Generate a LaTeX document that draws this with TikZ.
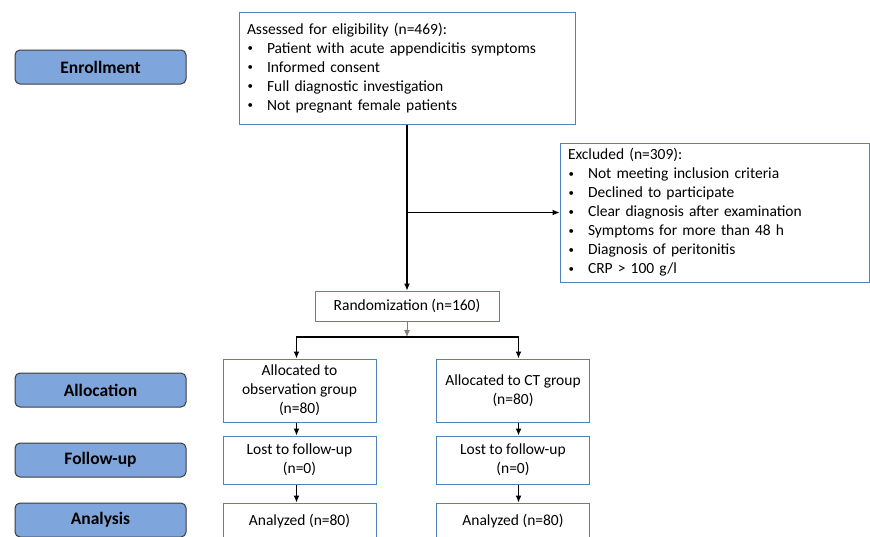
\documentclass[tikz,border=0pt]{standalone}
\usepackage{graphicx}
\usepackage{fontspec}
\setmainfont{Carlito}
\usetikzlibrary{arrows.meta}
\definecolor{stagefill}{HTML}{7EA6DC}
\definecolor{stageline}{HTML}{3C3C3C}
\definecolor{boxline}{HTML}{4F81BD}
\newcommand{\itm}[1]{\makebox[20pt][l]{\hspace{0.5pt}\raisebox{1.5pt}{\scalebox{0.7}{\textbullet}}}#1}

\begin{document}
\begin{tikzpicture}[x=1pt,y=-1pt,
    stage/.style={draw=stageline,fill=stagefill,rounded corners=5pt,line width=1pt,
      minimum width=171pt,minimum height=34pt,font=\fontsize{17.5}{21}\selectfont\bfseries},
    flow/.style={draw=boxline,line width=1pt,align=center,inner sep=2pt,
      font=\fontsize{15.5}{19}\selectfont},
    lst/.style={flow,align=left,inner xsep=8pt},
    arr/.style={-{Latex[length=7pt,width=6pt]},line width=1.1pt}]
        \useasboundingbox (0,0) rectangle (870,536);

        % stages on the left
        \node[stage] (enrol) at (100.5,67) {Enrollment};
        \node[stage] (alloc) at (100.5,390) {Allocation};
        \node[stage] (follow) at (100.5,460) {Follow-up};
        \node[stage] (analys) at (100.5,520) {Analysis};

        % enrollment
        \node[lst,text width=320pt,minimum height=112pt] (assess) at (407,68)
          {Assessed for eligibility (n=469):\\
           \itm{Patient with acute appendicitis symptoms}\\
           \itm{Informed consent}\\
           \itm{Full diagnostic investigation}\\
           \itm{Not pregnant female patients}};
        \node[lst,text width=293pt,minimum height=139pt] (excl) at (714.5,212.5)
          {Excluded (n=309):\\
           \itm{Not meeting inclusion criteria}\\
           \itm{Declined to participate}\\
           \itm{Clear diagnosis after examination}\\
           \itm{Symptoms for more than 48 h}\\
           \itm{Diagnosis of peritonitis}\\
           \itm{CRP > 100 g/l}};
        \node[flow,minimum width=184pt,minimum height=30pt] (random) at (407,306)
          {Randomization (n=160)};

        % two arms
        \node[flow,minimum width=153pt,minimum height=63pt] (allocObs) at (299.5,390.5)
          {Allocated to\\observation group\\(n=80)};
        \node[flow,minimum width=153pt,minimum height=63pt] (allocCT) at (513,390.5)
          {Allocated to CT group\\(n=80)};
        \node[flow,minimum width=153pt,minimum height=48pt] (lostObs) at (299.5,460)
          {Lost to follow-up\\(n=0)};
        \node[flow,minimum width=153pt,minimum height=48pt] (lostCT) at (513,460)
          {Lost to follow-up\\(n=0)};
        \node[flow,minimum width=153pt,minimum height=36pt] (anaObs) at (299.5,521)
          {Analyzed (n=80)};
        \node[flow,minimum width=153pt,minimum height=36pt] (anaCT) at (513,521)
          {Analyzed (n=80)};

        \coordinate (branch) at (407,212.5);
        \coordinate (split) at (407,337);
        \coordinate (colObs) at (296.5,0);
        \coordinate (colCT) at (518.5,0);

        \draw[arr] (assess) -- (random);
        \draw[arr] (branch) -- (branch -| excl.west);
        \draw[arr,line width=0.8pt,gray] (random) -- (split);
        \draw[arr,line width=1.5pt] (split) -| (allocObs.north -| colObs);
        \draw[arr,line width=1.5pt] (split) -| (allocCT.north -| colCT);
        \draw[arr] (allocObs.south -| colObs) -- (lostObs.north -| colObs);
        \draw[arr] (allocCT.south -| colCT) -- (lostCT.north -| colCT);
        \draw[arr] (lostObs.south -| colObs) -- (anaObs.north -| colObs);
        \draw[arr] (lostCT.south -| colCT) -- (anaCT.north -| colCT);
      \end{tikzpicture}
\end{document}
